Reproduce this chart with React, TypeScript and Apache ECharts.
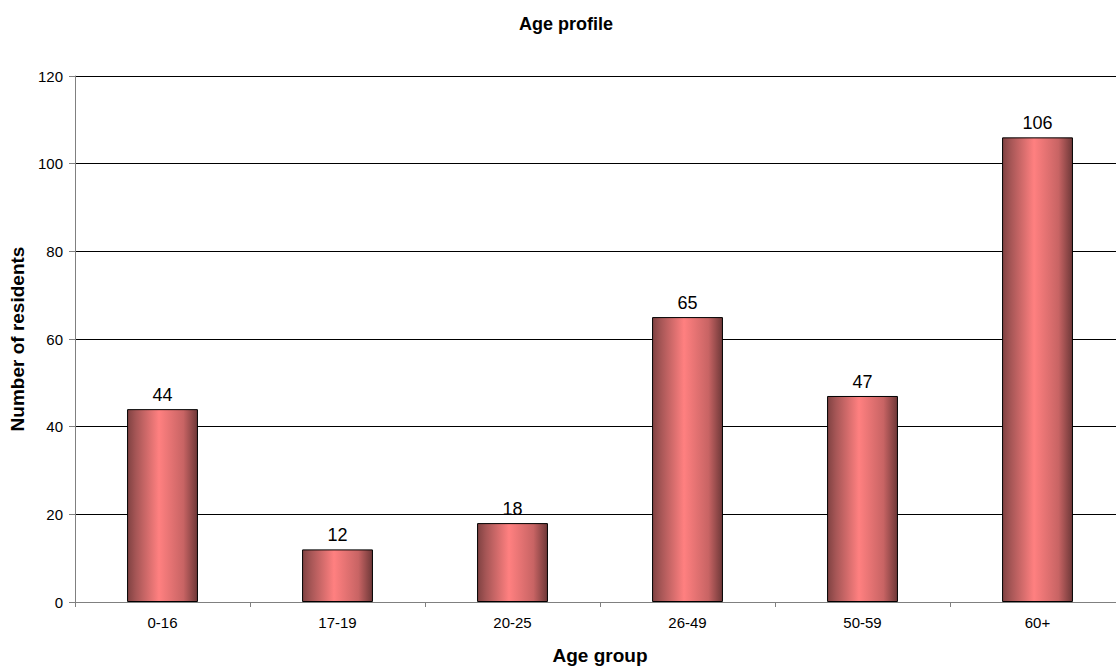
import React, { useEffect, useRef } from "react";
import * as echarts from "echarts";

const categories = ["0-16", "17-19", "20-25", "26-49", "50-59", "60+"];
const residents = [44, 12, 18, 65, 47, 106];

export default function App() {
  const ref = useRef<HTMLDivElement>(null);
  useEffect(() => {
    if (!ref.current) return;
    const chart = echarts.init(ref.current, undefined, { renderer: "svg" });
    const font = "Liberation Sans, Arial, sans-serif";
    chart.setOption({
      animation: false,
      backgroundColor: "#ffffff",
      title: {
        text: "Age profile",
        left: 561,
        textAlign: "center",
        top: 10,
        textStyle: { fontFamily: font, fontSize: 18, fontWeight: "bold", color: "#000" },
      },
      grid: { left: 75, right: 0, top: 76, bottom: 65 },
      xAxis: {
        type: "category",
        data: categories,
        name: "Age group",
        nameLocation: "middle",
        nameGap: 44,
        nameTextStyle: { fontFamily: font, fontSize: 19, fontWeight: "bold", color: "#000" },
        axisLine: { lineStyle: { color: "#808080", width: 1 } },
        axisTick: { show: true, alignWithLabel: false, length: 5, lineStyle: { color: "#808080" } },
        axisLabel: { fontFamily: font, fontSize: 15, color: "#000", margin: 13 },
      },
      yAxis: {
        type: "value",
        min: 0,
        max: 120,
        interval: 20,
        name: "Number of residents",
        nameLocation: "middle",
        nameGap: 46,
        nameTextStyle: { fontFamily: font, fontSize: 19, fontWeight: "bold", color: "#000" },
        axisLine: { show: true, lineStyle: { color: "#808080", width: 1 } },
        axisTick: { show: true, length: 6, lineStyle: { color: "#808080" } },
        axisLabel: { fontFamily: font, fontSize: 15, color: "#000", margin: 12 },
        splitLine: { show: true, lineStyle: { color: "#000", width: 1 } },
      },
      series: [
        {
          type: "bar",
          data: residents,
          barWidth: "40.5%",
          itemStyle: {
            borderColor: "#000",
            borderWidth: 1,
            color: new echarts.graphic.LinearGradient(0, 0, 1, 0, [
              { offset: 0, color: "#804242" },
              { offset: 0.12, color: "#a65656" },
              { offset: 0.45, color: "#ff8080" },
              { offset: 0.8, color: "#c86464" },
              { offset: 1, color: "#6e3838" },
            ]),
          },
          label: {
            show: true,
            position: "top",
            distance: 5,
            fontFamily: font,
            fontSize: 18,
            color: "#000",
          },
        },
      ],
    });
    return () => chart.dispose();
  }, []);
  return (
    <div
      style={{
        position: "absolute",
        left: 0,
        top: 0,
        width: 1116,
        height: 670,
        overflow: "hidden",
      }}
    >
      <div ref={ref} style={{ width: 1125, height: 670 }} />
    </div>
  );
}
